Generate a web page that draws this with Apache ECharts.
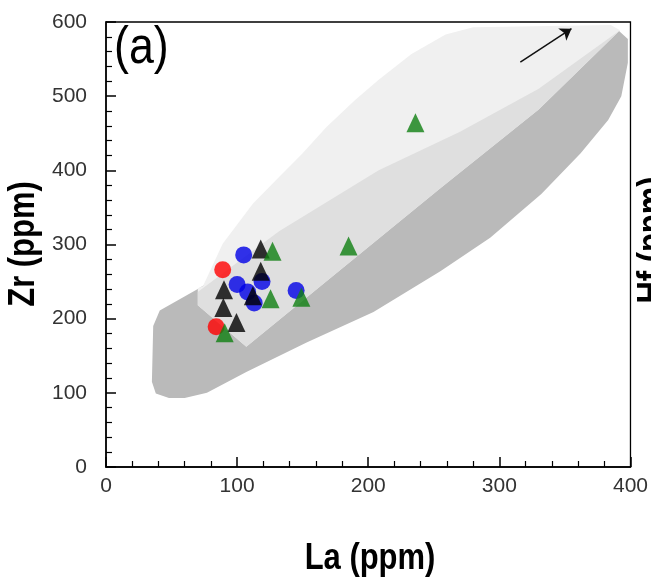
<!DOCTYPE html>
<html>
<head>
<meta charset="utf-8">
<script src="https://cdn.jsdelivr.net/npm/echarts@6/dist/echarts.min.js"></script>
<style>html,body{margin:0;padding:0;background:#fff}#c{width:651px;height:581px}</style>
</head>
<body>
<div id="c"></div>
<script>
// ---- data (La, Zr in ppm) ----
var redCircles = [[89, 266], [84, 189]];
var blueCircles = [[105, 286], [100, 246], [108, 236], [119, 250], [113, 221], [145, 238]];
var blackTriangles = [[118, 294], [118, 264], [112, 231], [90, 239], [89.5, 215], [99.5, 195]];
var greenTriangles = [[236, 464], [185, 298], [127, 291], [125.5, 227], [149, 229], [90.5, 181]];

// fields (polygons in data units)
var darkField = [[41, 211], [36, 190], [35, 115], [38, 99], [48, 93], [60, 93], [77, 100], [107, 128], [153, 168], [204, 209], [255, 264], [293, 309], [332, 368], [362, 423], [383, 468], [393, 500], [398, 545], [398, 577], [390, 590], [70, 240]];
var lightField = [[70, 218], [70, 241], [74, 244], [89, 301], [112, 355], [132, 391], [150, 423], [168, 458], [190, 495], [208, 522], [233, 557], [259, 583], [280, 593], [385, 596], [392, 589], [330, 482], [255, 376], [107, 162]];
var midField = [[70, 218], [70, 236], [132, 318], [208, 400], [270, 452], [330, 510], [392, 589], [330, 482], [255, 376], [107, 162]];

// trend arrow
var trendArrow = [[316, 546], [355, 591]];

// axes
var xTicks = [0, 100, 200, 300, 400];
var yTicks = [0, 100, 200, 300, 400, 500, 600];

function hasFont(name) {
  var c = document.createElement('canvas').getContext('2d');
  var s = 'Zr (ppm) 0123456789';
  c.font = '40px monospace';
  var a = c.measureText(s).width;
  c.font = '40px "' + name + '", monospace';
  var b = c.measureText(s).width;
  return Math.abs(a - b) > 0.5;
}
var narrow = hasFont('Liberation Sans Narrow');
var FF = narrow ? '"Liberation Sans Narrow", "Liberation Sans", Arial, sans-serif' : '"Liberation Sans", Arial, sans-serif';
var tickSize = narrow ? 24 : 21;
var sx = narrow ? 1 : 0.86;

var chart = echarts.init(document.getElementById('c'), null, {renderer: 'canvas'});

function polySeries(pts, color, z) {
  return {
    type: 'custom',
    coordinateSystem: 'cartesian2d',
    data: [0],
    z: z,
    silent: true,
    clip: true,
    renderItem: function (params, api) {
      var p = pts.map(function (d) { return api.coord(d); });
      return {type: 'polygon', shape: {points: p}, style: {fill: color, stroke: null}};
    }
  };
}

var titleFont = 'bold 36px ' + FF;
var option = {
  animation: false,
  backgroundColor: '#fff',
  grid: {left: 106, right: 18, top: 22, bottom: 114, show: true, borderColor: '#000', borderWidth: 1.3, backgroundColor: 'transparent', z: 5},
  xAxis: {
    type: 'value', min: xTicks[0], max: xTicks[xTicks.length - 1], interval: 100,
    axisLine: {show: true, lineStyle: {color: '#000', width: 1.5}},
    axisTick: {show: true, inside: true, length: 10, lineStyle: {color: '#000', width: 1.5}},
    minorTick: {show: true, splitNumber: 5, length: 6, lineStyle: {color: '#000', width: 1.2}},
    splitLine: {show: false},
    axisLabel: {color: '#333', fontSize: tickSize, fontFamily: FF, margin: 9,
      formatter: function (v) { return xTicks.indexOf(v) >= 0 ? String(v) : ''; }}
  },
  yAxis: {
    type: 'value', min: yTicks[0], max: yTicks[yTicks.length - 1], interval: 100,
    axisLine: {show: true, lineStyle: {color: '#000', width: 1.5}},
    axisTick: {show: true, inside: true, length: 10, lineStyle: {color: '#000', width: 1.5}},
    minorTick: {show: true, splitNumber: 5, length: 6, lineStyle: {color: '#000', width: 1.2}},
    splitLine: {show: false},
    axisLabel: {color: '#333', fontSize: tickSize, fontFamily: FF, margin: 19,
      formatter: function (v) { return yTicks.indexOf(v) >= 0 ? String(v) : ''; }}
  },
  graphic: [
    {type: 'text', x: 370, y: 541, scaleX: sx, style: {text: 'La (ppm)', font: titleFont, fill: '#000', align: 'center', verticalAlign: 'top'}, z: 10},
    {type: 'text', x: 6, y: 244, rotation: Math.PI / 2, scaleX: sx, style: {text: 'Zr (ppm)', font: titleFont, fill: '#000', align: 'center', verticalAlign: 'top'}, z: 10},
    {type: 'text', x: 635, y: 240, rotation: Math.PI / 2, scaleX: sx, style: {text: 'Hf (ppm)', font: titleFont, fill: '#000', align: 'center', verticalAlign: 'top'}, z: 10},
    {type: 'text', x: 114, y: 23, scaleX: sx, style: {text: '(a)', font: '52px ' + FF, fill: '#000'}, z: 10}
  ],
  series: [
    polySeries(darkField, '#bababa', 1),
    polySeries(lightField, '#f0f0f0', 2),
    polySeries(midField, '#dfdfdf', 3),
    {
      type: 'lines', coordinateSystem: 'cartesian2d', z: 4, silent: true,
      symbol: ['none', 'arrow'], symbolSize: 11,
      lineStyle: {color: '#111', width: 1.5, opacity: 1},
      data: [{coords: trendArrow}]
    },
    {type: 'scatter', z: 6, symbol: 'circle', symbolSize: 17, itemStyle: {color: '#ff0000'}, data: redCircles},
    {type: 'scatter', z: 7, symbol: 'circle', symbolSize: 17, itemStyle: {color: '#0000e6'}, data: blueCircles},
    {type: 'scatter', z: 8, symbol: 'triangle', symbolSize: [18, 19], itemStyle: {color: '#000000'}, data: blackTriangles},
    {type: 'scatter', z: 9, symbol: 'triangle', symbolSize: [18, 19], itemStyle: {color: '#0f7f12'}, data: greenTriangles}
  ]
};
chart.setOption(option);
</script>
</body>
</html>
